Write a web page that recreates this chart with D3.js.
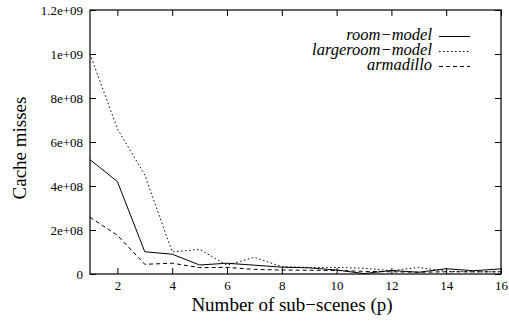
<!DOCTYPE html>
<html>
<head>
<meta charset="utf-8">
<script src="https://cdn.jsdelivr.net/npm/d3@7"></script>
<style>
  body { margin: 0; background: #fff; }
  text { font-family: "Liberation Serif", "Times New Roman", serif; fill: #000; }
</style>
</head>
<body>
<div id="chart"></div>
<script>
// data
var subScenes = [1, 2, 3, 4, 5, 6, 7, 8, 9, 10, 11, 12, 13, 14, 15, 16];
var roomModel = [5.2e8, 4.2e8, 1.01e8, 0.9e8, 0.41e8, 0.49e8, 0.4e8, 0.31e8, 0.28e8, 0.18e8, 0.02e8, 0.16e8, 0.08e8, 0.24e8, 0.15e8, 0.23e8];
var largeroomModel = [1.0e9, 6.6e8, 4.5e8, 1.0e8, 1.12e8, 0.4e8, 0.76e8, 0.33e8, 0.3e8, 0.3e8, 0.26e8, 0.15e8, 0.3e8, 0.12e8, 0.1e8, 0.1e8];
var armadillo = [2.58e8, 1.76e8, 0.44e8, 0.49e8, 0.29e8, 0.3e8, 0.21e8, 0.18e8, 0.17e8, 0.16e8, 0.12e8, 0.1e8, 0.08e8, 0.1e8, 0.1e8, 0.1e8];
var xTicks = [2, 4, 6, 8, 10, 12, 14, 16];
var yTicks = [0, 2e8, 4e8, 6e8, 8e8, 1e9, 1.2e9];
var yTickLabels = ["0", "2e+08", "4e+08", "6e+08", "8e+08", "1e+09", "1.2e+09"];

var seriesList = [
    { name: "room\u2212model", values: roomModel, dash: null },
    { name: "largeroom\u2212model", values: largeroomModel, dash: "1.5,2.5" },
    { name: "armadillo", values: armadillo, dash: "4,3" }
];

var W = 509, H = 324;
var margin = { top: 10, right: 8, bottom: 50, left: 90 };
var width = W - margin.left - margin.right;
var height = H - margin.top - margin.bottom;
var serif = "'Liberation Serif', 'Times New Roman', serif";

var svg = d3.select("#chart").append("svg")
    .attr("width", W)
    .attr("height", H);

var g = svg.append("g")
    .attr("transform", `translate(${margin.left},${margin.top})`);

var x = d3.scaleLinear().domain([1, 16]).range([0, width]);
var y = d3.scaleLinear().domain([0, 1.2e9]).range([height, 0]);

// axes, ticks pointing inward on all four sides
g.append("g")
    .attr("transform", `translate(0,${height})`)
    .call(d3.axisBottom(x).tickValues(xTicks).tickSizeInner(-6).tickSizeOuter(0).tickPadding(7).tickFormat(d3.format("d")))
    .call(a => a.select(".domain").remove());
g.append("g")
    .call(d3.axisTop(x).tickValues(xTicks).tickSizeInner(-6).tickSizeOuter(0).tickFormat(""))
    .call(a => a.select(".domain").remove());
g.append("g")
    .call(d3.axisLeft(y).tickValues(yTicks).tickSizeInner(-6).tickSizeOuter(0).tickPadding(7).tickFormat((d, i) => yTickLabels[i]))
    .call(a => a.select(".domain").remove());
g.append("g")
    .attr("transform", `translate(${width},0)`)
    .call(d3.axisRight(y).tickValues(yTicks).tickSizeInner(-6).tickSizeOuter(0).tickFormat(""))
    .call(a => a.select(".domain").remove());

g.selectAll(".tick").attr("font-family", serif);
g.selectAll(".tick text")
    .style("font-family", serif)
    .style("font-size", "13px");
g.selectAll(".tick line").attr("stroke", "#000");

g.append("rect")
    .attr("width", width)
    .attr("height", height)
    .attr("fill", "none")
    .attr("stroke", "#000")
    .attr("stroke-width", 1.2);

var line = d3.line()
    .x((d, i) => x(subScenes[i]))
    .y(d => y(d));

seriesList.forEach(function (s) {
    g.append("path")
        .datum(s.values)
        .attr("d", line)
        .attr("fill", "none")
        .attr("stroke", "#000")
        .attr("stroke-width", 1)
        .attr("stroke-dasharray", s.dash);
});

// legend
seriesList.forEach(function (s, i) {
    var ly = 30 + i * 15;
    g.append("text")
        .attr("x", 342)
        .attr("y", ly)
        .attr("text-anchor", "end")
        .style("font-style", "italic")
        .style("font-size", "16.5px")
        .text(s.name);
    g.append("line")
        .attr("x1", 349)
        .attr("x2", 380)
        .attr("y1", ly - 3.5)
        .attr("y2", ly - 3.5)
        .attr("stroke", "#000")
        .attr("stroke-width", 1)
        .attr("stroke-dasharray", s.dash);
});

// axis titles
svg.append("text")
    .attr("transform", "translate(26,148) rotate(-90)")
    .attr("text-anchor", "middle")
    .style("font-size", "19px")
    .text("Cache misses");

svg.append("text")
    .attr("x", 292)
    .attr("y", 311)
    .attr("text-anchor", "middle")
    .style("font-size", "19px")
    .text("Number of sub\u2212scenes (p)");
</script>
</body>
</html>
